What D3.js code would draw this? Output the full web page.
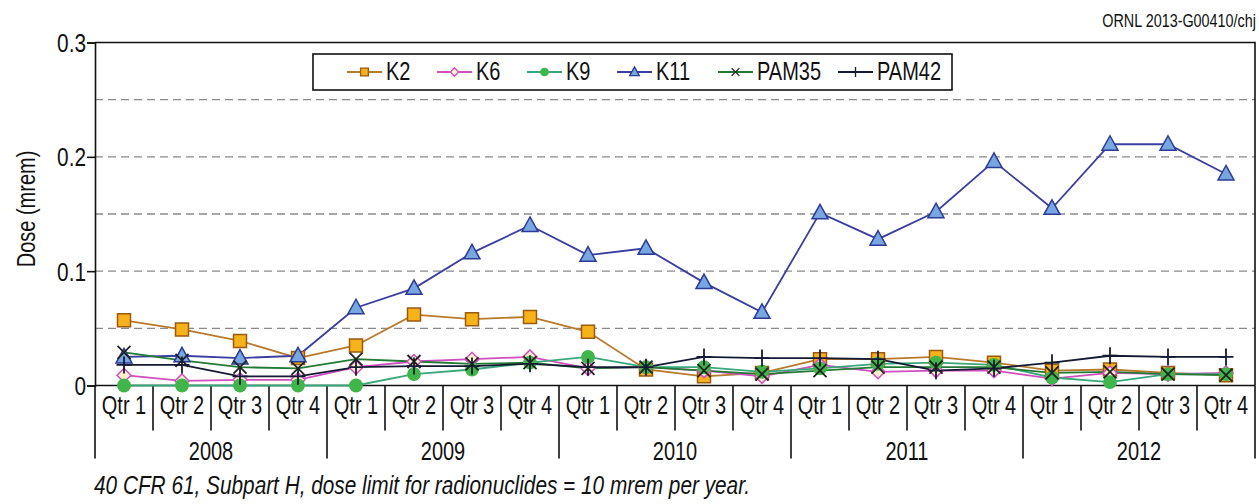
<!DOCTYPE html>
<html>
<head>
<meta charset="utf-8">
<script src="https://cdn.jsdelivr.net/npm/d3@7"></script>
<style>
  html, body { margin: 0; padding: 0; background: #fff; }
  svg { display: block; font-family: "Liberation Sans", Arial, sans-serif; }
</style>
</head>
<body>
<svg id="chart" width="1259" height="504"></svg>
<script>
// Quarterly dose at each monitoring station, 2008–2012
const years = ["2008", "2009", "2010", "2011", "2012"];
const quarters = ["Qtr 1", "Qtr 2", "Qtr 3", "Qtr 4"];
const yTicks = [0, 0.1, 0.2, 0.3];
const gridLevels = [0.05, 0.1, 0.15, 0.2, 0.25];

const K2 = [0.057, 0.049, 0.039, 0.024, 0.035, 0.062, 0.058, 0.060, 0.047, 0.014,
            0.008, 0.011, 0.023, 0.023, 0.025, 0.020, 0.013, 0.014, 0.011, 0.009];
const K6 = [0.009, 0.004, 0.005, 0.005, 0.016, 0.021, 0.023, 0.025, 0.015, 0.016,
            0.013, 0.008, 0.018, 0.012, 0.013, 0.013, 0.006, 0.011, 0.010, 0.011];
const K9 = [0.000, 0.000, 0.000, 0.000, 0.000, 0.010, 0.014, 0.020, 0.025, 0.016,
            0.016, 0.012, 0.015, 0.019, 0.020, 0.018, 0.007, 0.003, 0.010, 0.010];
const K11 = [0.025, 0.026, 0.024, 0.026, 0.068, 0.085, 0.116, 0.140, 0.114, 0.120,
             0.090, 0.064, 0.151, 0.128, 0.152, 0.196, 0.155, 0.211, 0.211, 0.185];
const PAM35 = [0.029, 0.022, 0.016, 0.015, 0.023, 0.021, 0.019, 0.020, 0.015, 0.016,
               0.013, 0.010, 0.013, 0.016, 0.016, 0.016, 0.011, 0.012, 0.010, 0.009];
const PAM42 = [0.018, 0.018, 0.008, 0.008, 0.016, 0.017, 0.017, 0.019, 0.016, 0.016,
               0.025, 0.024, 0.024, 0.023, 0.013, 0.015, 0.020, 0.026, 0.025, 0.025];

const series = [
  { name: "K2",    values: K2,    line: "#b8792c", fill: "#f6b21b", stroke: "#9a5a10", shape: "square" },
  { name: "K6",    values: K6,    line: "#d04fc0", fill: "#fdf0c8", stroke: "#d04fc0", shape: "diamond" },
  { name: "K9",    values: K9,    line: "#3aa77a", fill: "#3fb54a", stroke: "#3fb54a", shape: "circle" },
  { name: "K11",   values: K11,   line: "#3a3ea0", fill: "#78a6e0", stroke: "#2b3b96", shape: "triangle" },
  { name: "PAM35", values: PAM35, line: "#237a35", fill: "none",    stroke: "#222",    shape: "x" },
  { name: "PAM42", values: PAM42, line: "#141a33", fill: "none",    stroke: "#141a33", shape: "plus" }
];

const periods = [];
years.forEach(y => quarters.forEach(q => periods.push(y + " " + q)));

const svg = d3.select("#chart");
const margin = { left: 95, right: 4, top: 42.5, bottom: 118.5 };
const W = 1259, H = 504;
const NARROW = 0.8;   // horizontal condensing for the narrow type

const x = d3.scaleBand().domain(periods).range([margin.left, W - margin.right]).padding(0);
const xc = d => x(d) + x.bandwidth() / 2;
const y = d3.scaleLinear().domain([0, 0.3]).range([H - margin.bottom, margin.top]);

// condensed text placed at (px, py)
function narrowText(parent, px, py, str, size, opts = {}) {
  return parent.append("text")
    .attr("transform", `translate(${px},${py})${opts.rotate ? ` rotate(${opts.rotate})` : ""} scale(${NARROW},1)`)
    .attr("text-anchor", opts.anchor || "start")
    .attr("dominant-baseline", "middle")
    .attr("font-size", size)
    .attr("font-style", opts.italic ? "italic" : null)
    .attr("fill", "#111")
    .text(str);
}

// dashed horizontal grid
svg.append("g").selectAll("line").data(gridLevels).join("line")
  .attr("x1", margin.left).attr("x2", W - margin.right)
  .attr("y1", d => y(d)).attr("y2", d => y(d))
  .attr("stroke", "#8a8a8a").attr("stroke-width", 1.3)
  .attr("stroke-dasharray", "8,5");

// plot frame: top and right edges
svg.append("path")
  .attr("d", `M${margin.left},${y(0.3)}H${W - margin.right}V${y(0)}`)
  .attr("fill", "none").attr("stroke", "#111").attr("stroke-width", 1.6);

// y axis
const yAxis = svg.append("g")
  .attr("transform", `translate(${margin.left},0)`)
  .call(d3.axisLeft(y).tickValues(yTicks).tickSize(8).tickPadding(1)
    .tickFormat(d => d === 0 ? "0" : d3.format(".1f")(d)));
yAxis.select(".domain").attr("stroke", "#111").attr("stroke-width", 1.6);
yAxis.selectAll(".tick line").attr("stroke", "#111").attr("stroke-width", 1.6);
yAxis.selectAll(".tick text")
  .attr("font-size", 26).attr("fill", "#111")
  .attr("font-family", "'Liberation Sans', Arial, sans-serif")
  .attr("x", -9 / NARROW).attr("dy", "0.34em")
  .attr("transform", `scale(${NARROW},1)`);

// y axis title
narrowText(svg, 28, (y(0) + y(0.3)) / 2 - 5, "Dose (mrem)", 25, { anchor: "middle", rotate: -90 });

// x axis baseline
svg.append("line")
  .attr("x1", margin.left).attr("x2", W - margin.right)
  .attr("y1", y(0)).attr("y2", y(0))
  .attr("stroke", "#111").attr("stroke-width", 1.6);

// quarter / year separators
const x0 = y(0);
const qSep = periods.map(p => x(p)).concat([W - margin.right]);
svg.append("g").selectAll("line").data(qSep).join("line")
  .attr("x1", d => d).attr("x2", d => d)
  .attr("y1", x0).attr("y2", (d, i) => (i % 4 === 0) ? x0 + 73 : x0 + 45)
  .attr("stroke", "#111").attr("stroke-width", 1.6);

// quarter labels
const qLabels = svg.append("g");
periods.forEach(p => narrowText(qLabels, xc(p), x0 + 22, p.split(" ").slice(1).join(" "), 25, { anchor: "middle" }));

// year labels
const yLabels = svg.append("g");
years.forEach(yr => narrowText(yLabels,
  (x(yr + " Qtr 1") + x(yr + " Qtr 4") + x.bandwidth()) / 2, x0 + 68, yr, 25, { anchor: "middle" }));

// marker shapes
function markerPath(shape) {
  switch (shape) {
    case "square":   return "M-6.5,-6.5H6.5V6.5H-6.5Z";
    case "diamond":  return "M0,-7L7,0L0,7L-7,0Z";
    case "circle":   return d3.symbol(d3.symbolCircle, 120)();
    case "triangle": return "M0,-8.5L8,6H-8Z";
    case "x":        return "M-6.5,-6.5L6.5,6.5M-6.5,6.5L6.5,-6.5";
    case "plus":     return "M-7.5,0H7.5M0,-8.5V8.5";
  }
}

const line = d3.line().x((d, i) => xc(periods[i])).y(d => y(d));

// lines
svg.append("g").selectAll("path").data(series).join("path")
  .attr("d", s => line(s.values))
  .attr("fill", "none").attr("stroke", s => s.line).attr("stroke-width", 1.8);

// markers
series.forEach(s => {
  svg.append("g").selectAll("path").data(s.values).join("path")
    .attr("transform", (d, i) => `translate(${xc(periods[i])},${y(d)})`)
    .attr("d", markerPath(s.shape))
    .attr("fill", s.fill)
    .attr("stroke", s.stroke)
    .attr("stroke-width", (s.shape === "x" || s.shape === "plus") ? 1.8 : 1.5);
});

// legend
const legend = svg.append("g");
legend.append("rect")
  .attr("x", 313).attr("y", 54).attr("width", 639).attr("height", 36)
  .attr("fill", "#fff").attr("stroke", "#111").attr("stroke-width", 1.6);
const legendX = [347, 437, 527, 617, 718, 838];
series.forEach((s, i) => {
  const g = legend.append("g").attr("transform", `translate(${legendX[i]},72)`);
  g.append("line").attr("x1", 0).attr("x2", 35).attr("y1", 0).attr("y2", 0)
    .attr("stroke", s.line).attr("stroke-width", 1.8);
  g.append("path").attr("transform", "translate(17.5,0) scale(0.6)")
    .attr("d", markerPath(s.shape))
    .attr("fill", s.fill).attr("stroke", s.stroke).attr("stroke-width", 2.2);
  narrowText(g, 39, 1, s.name, 25);
});

// figure code
narrowText(svg, 1256, 22, "ORNL 2013-G00410/chj", 18, { anchor: "end" });

// regulatory note
narrowText(svg, 94, 487, "40 CFR 61, Subpart H, dose limit for radionuclides = 10 mrem per year.", 26, { italic: true });
</script>
</body>
</html>
